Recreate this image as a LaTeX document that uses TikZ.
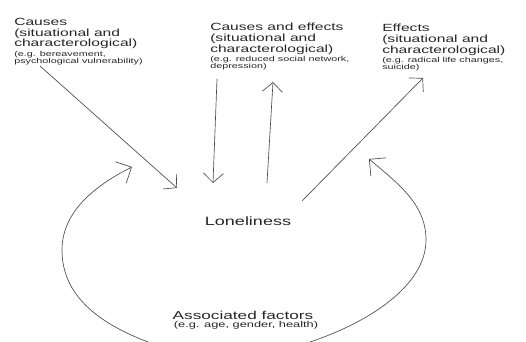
\documentclass[tikz,border=0pt]{standalone}
\usepackage{fontspec}
\setmainfont{Liberation Sans}[FakeStretch=1.5]
\usetikzlibrary{arrows.meta}
\begin{document}
\begin{tikzpicture}[x=0.75pt,y=-0.75pt,
    every node/.style={inner sep=0pt, text=black!85},
    head/.style={font=\fontsize{7.8}{8}\selectfont, align=left, anchor=north west},
    eg/.style={font=\fontsize{5.4}{5.3}\selectfont, align=left, anchor=north west},
    link/.style={draw=black!70, line width=0.5pt, -{Straight Barb[length=7pt,width=15pt]}},
    loop/.style={draw=black!70, line width=0.5pt, -{Straight Barb[length=9pt,width=18pt]}}]
    \useasboundingbox (0,0) rectangle (526,342);
    \node[head] (causes) at (14,18) {Causes\\(situational and\\characterological)};
    \node[eg] (causeseg) at ([yshift=-1pt]causes.south west) {(e.g. bereavement,\\psychological vulnerability)};
    \node[head] (both) at (210,23) {Causes and effects\\(situational and\\characterological)};
    \node[eg] (botheg) at ([yshift=-1pt]both.south west) {(e.g. reduced social network,\\depression)};
    \node[head] (effects) at (382,24) {Effects\\(situational and\\characterological)};
    \node[eg] (effectseg) at ([yshift=-1pt]effects.south west) {(e.g. radical life changes,\\suicide)};
    \node[font=\fontsize{9}{9}\selectfont] (lonely) at (248,221) {Loneliness};
    \node[font=\fontsize{8.6}{8.6}\selectfont, anchor=base] (assoc) at (243,320) {Associated factors};
    \node[font=\fontsize{6.4}{6.4}\selectfont, anchor=base] (assoceg) at (246,327.5) {(e.g. age, gender, health)};
    \coordinate (c1s) at (40,66);
    \coordinate (c1e) at (177,188);
    \coordinate (c2s) at (217,79);
    \coordinate (c2e) at (213,183);
    \coordinate (c3s) at (267,183);
    \coordinate (c3e) at (273,82);
    \coordinate (c4s) at (302,201);
    \coordinate (c4e) at (423,78);
    \coordinate (l1s) at (148,342);
    \coordinate (l1m) at (62,250);
    \coordinate (l1e) at (132,167);
    \coordinate (l2s) at (310,342);
    \coordinate (l2m) at (426,240);
    \coordinate (l2e) at (369,159);
    \draw[link] (c1s) -- (c1e);
    \draw[link] (c2s) -- (c2e);
    \draw[link] (c3s) -- (c3e);
    \draw[link] (c4s) -- (c4e);
    \draw[loop] (l1s) .. controls (90,320) and (62,290) .. (l1m) .. controls (62,210) and (98,184) .. (l1e);
    \draw[loop] (l2s) .. controls (370,322) and (426,285) .. (l2m) .. controls (426,205) and (400,185) .. (l2e);
\end{tikzpicture}
\end{document}
